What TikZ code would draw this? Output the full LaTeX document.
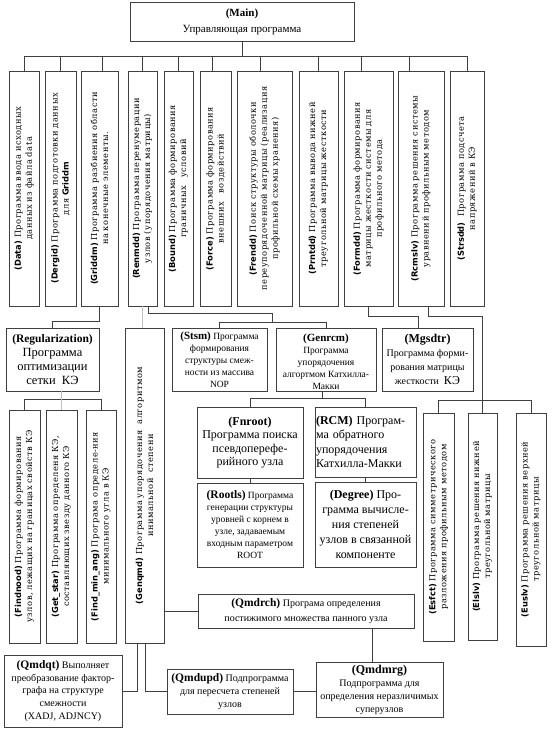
\documentclass[tikz,border=0pt]{standalone}
\usepackage{fontspec}
\usetikzlibrary{calc}
\setmainfont{Liberation Serif}
\newfontfamily\rotf[LetterSpace=6]{DejaVu Serif}
\newfontfamily\rotb{DejaVu Sans}
\newcommand\fsz[2]{\fontsize{#1}{#2}\selectfont}
\newcommand\nm[1]{{\rotb\bfseries #1}}
\newcommand\bxx[5]{\node[bx, minimum width={(#4-#2)*1pt}, minimum height={(#5-#3)*1pt}] (#1) at ({(#2+#4)/2},{(#3+#5)/2}) {};}
\tikzset{
  bx/.style={draw=black!75, line width=0.7pt, inner sep=0pt, fill=white},
  ln/.style={draw=black!75, line width=0.7pt},
  faint/.style={draw=black!25, line width=0.6pt},
  rt/.style={rotate=90, align=center, inner sep=0pt, font=\rotf\fsz{8.3}{11}},
  tx/.style={align=center, inner sep=0pt},
}
\begin{document}
\begin{tikzpicture}[x=1pt,y=-1pt]
\useasboundingbox[fill=white] (0,0) rectangle (553,735);
% ---------- boxes ----------
\bxx{main}{130}{2}{354}{41}
\bxx{data}{9}{71}{39}{306}
\bxx{dergid}{45}{71}{76}{306}
\bxx{griddm}{81}{71}{118}{306}
\bxx{renmdd}{128}{71}{157}{306}
\bxx{bound}{164}{71}{193}{306}
\bxx{force}{200}{71}{231}{306}
\bxx{frendd}{237}{71}{292}{306}
\bxx{prntdd}{299}{71}{338}{306}
\bxx{formdd}{344}{71}{393}{306}
\bxx{rcmslv}{398}{71}{444}{306}
\bxx{strsdd}{450}{71}{484}{306}
\bxx{reg}{6}{328}{99}{391}
\bxx{genqmd}{125}{328}{164}{643}
\bxx{stsm}{172}{328}{267}{391}
\bxx{genrcm}{276}{328}{376}{391}
\bxx{mgsdtr}{382}{328}{473}{391}
\bxx{fnroot}{197}{407}{303}{478}
\bxx{rcm}{315}{407}{416}{477}
\bxx{rootls}{197}{483}{303}{567}
\bxx{degree}{315}{482}{416}{567}
\bxx{findnood}{9}{410}{40}{643}
\bxx{getstar}{46}{410}{77}{643}
\bxx{findmin}{86}{410}{116}{643}
\bxx{esfct}{423}{413}{454}{641}
\bxx{elslv}{468}{413}{497}{640}
\bxx{euslv}{516}{413}{546}{646}
\bxx{qmdrch}{198}{594}{414}{628}
\bxx{qmdqt}{4}{655}{122}{727}
\bxx{qmdupd}{167}{669}{293}{714}
\bxx{qmdmrg}{316}{662}{443}{717}
% ---------- texts ----------
\node[tx, font=\fsz{11}{16}] (main-t) at (main.center) {{\bfseries (Main)}\\Управляющая программа};
\node[rt, text width=229pt] (data-t) at (data.center) {\nm{(Data)} Программа ввода исходных\\данных из файла data};
\node[rt, text width=229pt] (dergid-t) at (dergid.center) {\nm{(Dergid)} Программа подготовки данных\\для \nm{Griddm}};
\node[rt, text width=229pt] (griddm-t) at (griddm.center) {\nm{(Griddm)} Программа разбиения области\\на конечные элементы.};
\node[rt, text width=229pt] (renmdd-t) at (renmdd.center) {\nm{(Renmdd)} Программа перенумерации\\узлов (упорядочения матрицы)};
\node[rt, text width=229pt] (bound-t) at (bound.center) {\nm{(Bound)} Программа формирования\\граничных\ \ \ условий};
\node[rt, text width=229pt] (force-t) at (force.center) {\nm{(Force)} Программа формирования\\внешних\ \ \ воздействий};
\node[rt, text width=229pt] (frendd-t) at (frendd.center) {\nm{(Frendd)} Поиск структуры оболочки\\переупорядоченной матрицы (реализация\\профильной схемы хранения)};
\node[rt, text width=229pt] (prntdd-t) at (prntdd.center) {\nm{(Prntdd)} Программа вывода нижней\\треугольной матрицы жесткости};
\node[rt, text width=229pt] (formdd-t) at (formdd.center) {\nm{(Formdd)} Программа формирования\\матрицы жесткости системы для\\профильного метода};
\node[rt, text width=229pt] (rcmslv-t) at (rcmslv.center) {\nm{(Rcmslv)} Программа решения системы\\уравнений профильным методом};
\node[rt, text width=229pt] (strsdd-t) at (strsdd.center) {\nm{(Strsdd)}\ \ Программа подсчета\\напряжений в КЭ};
\node[rt, text width=227pt] (findnood-t) at (findnood.center) {\nm{(Findnood)} Программа формирования\\узлов, лежащих на границах свойств КЭ};
\node[rt, text width=227pt] (getstar-t) at (getstar.center) {\nm{(Get\_star)} Программа определеня КЭ,\\составляющих звезду данного КЭ};
\node[rt, text width=227pt] (findmin-t) at (findmin.center) {\nm{(Find\_min\_ang)} Програма определе-ния\\минимального угла в КЭ};
\node[rt, text width=309pt] (genqmd-t) at (genqmd.center) {\nm{(Genqmd)} Программа упорядочения\ \ алгоритмом\\инимальной\ \ степени};
\node[rt, text width=222pt] (esfct-t) at (esfct.center) {\nm{(Esfct)} Программа симметрического\\разложения профильным методом};
\node[rt, text width=222pt] (elslv-t) at (elslv.center) {\nm{(Elslv)} Программа решения нижней\\треугольной матрицы};
\node[rt, text width=222pt] (euslv-t) at (euslv.center) {\nm{(Euslv)} Программа решения верхней\\треугольной матрицы};
\node[tx, font=\fsz{12.5}{14}] (reg-t) at (reg.center) {{\fsz{11.5}{14}\bfseries (Regularization)}\\Программа\\оптимизации\\сетки\ \ КЭ};
\node[tx, font=\fsz{9.5}{12}] (stsm-t) at (stsm.center) {{\fsz{11}{12}\bfseries (Stsm)} Программа\\формирования\\структуры смеж-\\ности из массива\\NOP};
\node[tx, font=\fsz{9.5}{12}] (genrcm-t) at ([yshift=-2pt]genrcm.center) {{\fsz{11}{12}\bfseries (Genrcm)}\\Программа\\упорядочения\\алгортмом Катхилла-\\Макки};
\node[tx, font=\fsz{10}{14}] (mgsdtr-t) at (mgsdtr.center) {{\fsz{12}{14}\bfseries (Mgsdtr)}\\Программа форми-\\рования матрицы\\жесткости\ \ {\fsz{12}{14}КЭ}};
\node[tx, font=\fsz{12}{13.5}] (fnroot-t) at (fnroot.center) {{\bfseries (Fnroot)}\\Программа поиска\\псевдоперефе-\\рийного узла};
\node[tx, align=left, text width=99pt, font=\fsz{12}{14.5}] (rcm-t) at (rcm.center) {{\bfseries (RCM)} Програм-\\ма обратного\\упорядочения\\Катхилла-Макки};
\node[tx, font=\fsz{9.5}{12}] (rootls-t) at (rootls.center) {{\fsz{11.5}{12}\bfseries (Rootls)} Программа\\генерации структуры\\уровней с корнем в\\узле, задаваемым\\входным параметром\\ROOT};
\node[tx, font=\fsz{12}{15}] (degree-t) at (degree.center) {{\bfseries (Degree)} Про-\\грамма вычисле-\\ния степеней\\узлов в связанной\\компоненте};
\node[tx, font=\fsz{10}{15}] (qmdrch-t) at (qmdrch.center) {{\fsz{11.5}{15}\bfseries (Qmdrch)} Програма определения\\постижимого множества панного узла};
\node[tx, font=\fsz{10}{12.8}] (qmdqt-t) at (qmdqt.center) {{\fsz{11.5}{12.8}\bfseries (Qmdqt)} Выполняет\\преобразование фактор-\\графа на структуре\\смежности\\(XADJ, ADJNCY)};
\node[tx, font=\fsz{10}{13}] (qmdupd-t) at (qmdupd.center) {{\fsz{11.5}{13}\bfseries (Qmdupd)} Подпрограмма\\для пересчета степеней\\узлов};
\node[tx, font=\fsz{10}{13}] (qmdmrg-t) at (qmdmrg.center) {{\fsz{12}{13}\bfseries (Qmdmrg)}\\Подпрограмма для\\определения неразличимых\\суперузлов};
% ---------- connectors ----------
\coordinate (bus) at (0,56);
\draw[ln] (main.south) -- (main.south |- bus);
\draw[ln] (data.north |- bus) -- (strsdd.north |- bus);
\foreach \n/\s in {data/0, dergid/0, griddm/2.5, renmdd/0, bound/0, force/-3.5, frendd/-4.5, prntdd/0, formdd/-7.5, rcmslv/-12, strsdd/0}
  \draw[ln] ([xshift=\s pt]\n.north) -- ++(0,-15);
\draw[ln] (griddm.south) -- ++(0,15) -| (reg.north);
\coordinate (rj) at ([yshift=5pt]$(stsm.north)!0.5!(genrcm.north)$);
\draw[ln] ([xshift=5.5pt]renmdd.south) -- ++(0,7) -| (rj);
\draw[ln] (stsm.north) |- (rj) -| (genrcm.north);
\draw[faint] (renmdd.south) -- ++(0,22);
\draw[ln] (formdd.south) -- ++(0,10) -| ([xshift=-9pt]mgsdtr.north);
\draw[ln] ([xshift=7pt]rcmslv.south) -- ++(0,10) -| (elslv.north);
\draw[ln] (esfct.north) -- ++(0,-12) -| (euslv.north);
\draw[ln] (findnood.north) -- ++(0,-10) -| (findmin.north);
\draw[faint] (getstar.north) -- ++(0,-19);
\draw[ln] ([xshift=-4pt]genrcm.south) -- ++(0,7) coordinate (gj);
\draw[ln] (fnroot.north) |- (gj) -| (rcm.north);
\draw[ln] (fnroot.south) -- (rootls.north);
\draw[ln] (rcm.south) -- (degree.north);
\draw[ln] (qmdrch.west) -- (qmdrch.west -| genqmd.east);
\draw[ln] ([xshift=-7.5pt]genqmd.south) |- (qmdqt.east);
\draw[ln] ([xshift=0.5pt]genqmd.south) |- (qmdupd.west);
\draw[ln] (qmdupd.east) -- (qmdupd.east -| qmdmrg.west);
\draw[ln] ([xshift=-7.5pt]qmdmrg.north) -- ++(0,-34);
\end{tikzpicture}
\end{document}
